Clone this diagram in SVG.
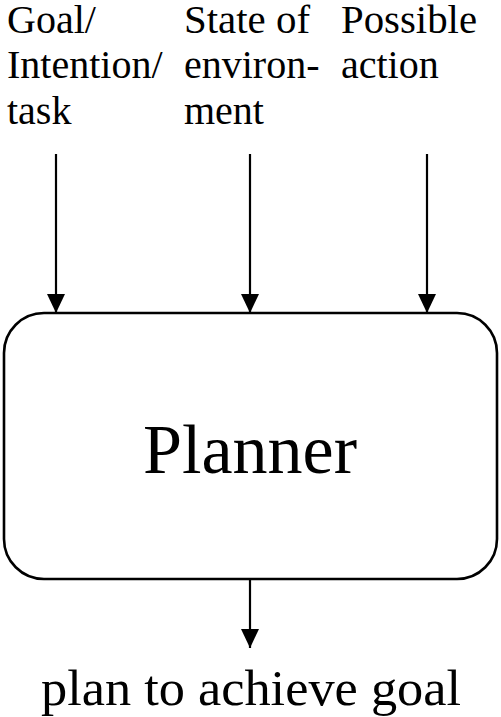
<svg xmlns="http://www.w3.org/2000/svg" width="501" height="717" viewBox="0 0 501 717">
<style>
text{fill:#000;font-family:"Liberation Serif","Times New Roman",Times,Tinos,"Nimbus Roman",FreeSerif,"Noto Serif","DejaVu Serif",serif}
.lbl{font-size:40px}
.ln{stroke:#000;stroke-width:2.2;fill:none}
</style>
<defs>
<marker id="ah" markerUnits="userSpaceOnUse" markerWidth="20" markerHeight="20" viewBox="0 0 20 20" refX="19" refY="10" orient="auto">
<path d="M0,1 L19,10 L0,19 Z" fill="#000"/>
</marker>
</defs>
<rect width="501" height="717" fill="#fff"/>
<g id="label-goal" class="lbl">
<text x="7" y="33">Goal/</text>
<text x="7" y="78">Intention/</text>
<text x="7" y="124">task</text>
</g>
<g id="label-state" class="lbl">
<text x="184" y="33" textLength="126" lengthAdjust="spacingAndGlyphs">State of</text>
<text x="184" y="78">environ-</text>
<text x="184" y="124">ment</text>
</g>
<g id="label-action" class="lbl">
<text x="341" y="33" textLength="136" lengthAdjust="spacingAndGlyphs">Possible</text>
<text x="341" y="78">action</text>
</g>
<g id="planner">
<rect x="4" y="313" width="493" height="266" rx="40" ry="40" fill="#fff" stroke="#000" stroke-width="2.6"/>
<text x="250" y="473" font-size="70" text-anchor="middle" textLength="214" lengthAdjust="spacingAndGlyphs">Planner</text>
</g>
<g id="label-output">
<text x="251" y="705" font-size="50" text-anchor="middle" textLength="420" lengthAdjust="spacingAndGlyphs">plan to achieve goal</text>
</g>
<g id="connectors">
<line class="ln" x1="56" y1="154" x2="56" y2="313" marker-end="url(#ah)"/>
<line class="ln" x1="250" y1="154" x2="250" y2="313" marker-end="url(#ah)"/>
<line class="ln" x1="427" y1="154" x2="427" y2="313" marker-end="url(#ah)"/>
<line class="ln" x1="250" y1="580" x2="250" y2="648" marker-end="url(#ah)"/>
</g>
</svg>
